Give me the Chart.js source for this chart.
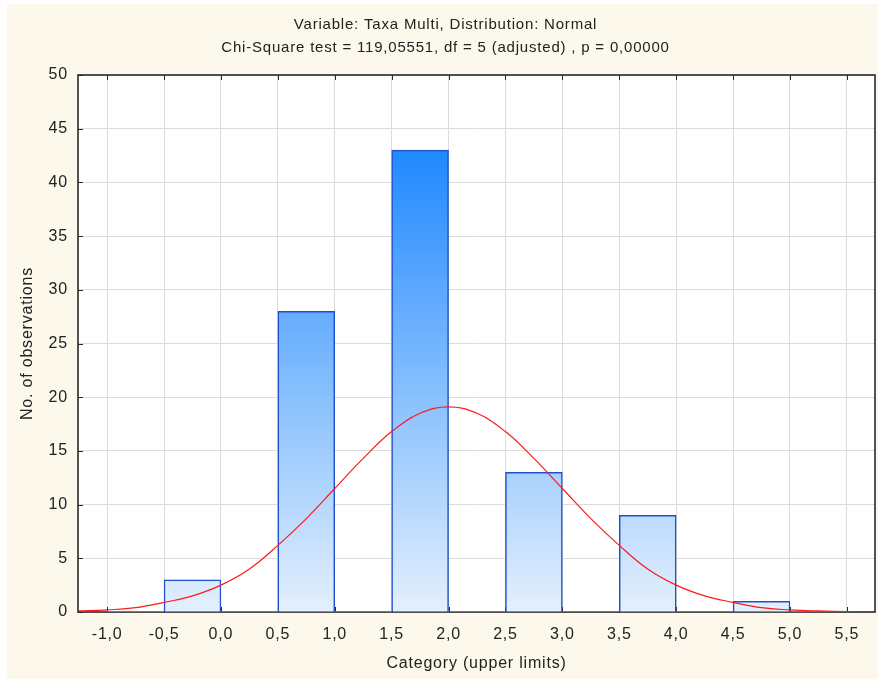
<!DOCTYPE html>
<html>
<head>
<meta charset="utf-8">
<script src="https://cdn.jsdelivr.net/npm/chart.js@4.4.1/dist/chart.umd.min.js"></script>
<style>
  html, body { margin: 0; padding: 0; background: #ffffff; }
  #wrap { width: 878px; height: 679px; }
</style>
</head>
<body>
<div id="wrap"><canvas id="myChart" width="878" height="679"></canvas></div>
<script>
"use strict";

// histogram bins (upper limits) and counts
const binWidth = 0.5;
const binUpper = [-0.5, 0.0, 0.5, 1.0, 1.5, 2.0, 2.5, 3.0, 3.5, 4.0, 4.5, 5.0, 5.5];
const binCounts = [0, 3, 0, 28, 0, 43, 0, 13, 0, 9, 0, 1, 0];

// fitted normal curve
const curveX = [-1.25, -1.0, -0.75, -0.5, -0.25, 0.0, 0.25, 0.5, 0.75, 1.0, 1.25, 1.5, 1.75, 2.0,
                2.25, 2.5, 2.75, 3.0, 3.25, 3.5, 3.75, 4.0, 4.25, 4.5, 4.75, 5.0, 5.25, 5.5, 5.57];
const curveY = [0.1, 0.2, 0.4, 0.9, 1.5, 2.5, 4.0, 6.2, 8.7, 11.5, 14.3, 16.8, 18.5, 19.1,
                18.5, 16.8, 14.3, 11.5, 8.7, 6.2, 4.0, 2.5, 1.5, 0.9, 0.4, 0.2, 0.1, 0.04, 0.02];

// tick labels
const xTicks = [-1.0, -0.5, 0.0, 0.5, 1.0, 1.5, 2.0, 2.5, 3.0, 3.5, 4.0, 4.5, 5.0, 5.5];
const titleLines = ["Variable: Taxa Multi, Distribution: Normal",
                    "Chi-Square test = 119,05551, df = 5 (adjusted) , p = 0,00000"];

Chart.defaults.font.family = '"Liberation Sans", Arial, sans-serif';
Chart.defaults.color = '#222222';

// wider glyph spacing, like the original's screen font
const spacingPlugin = {
    id: 'spacing',
    beforeUpdate(chart) { chart.ctx.letterSpacing = '0.8px'; },
    beforeDraw(chart) { chart.ctx.letterSpacing = '0.8px'; }
};

// background, plot area, frame and inward ticks
const framePlugin = {
    id: 'frame',
    beforeDraw(chart) {
        const c = chart.ctx;
        const a = chart.chartArea;
        c.save();
        c.fillStyle = '#ffffff';
        c.fillRect(0, 0, chart.width, chart.height);
        c.fillStyle = '#fdf8ec';
        c.fillRect(7, 4, chart.width - 7, chart.height - 4);
        c.fillStyle = '#ffffff';
        c.fillRect(a.left, a.top, a.right - a.left, a.bottom - a.top);
        c.restore();
    },
    beforeDatasetsDraw(chart) {
        const c = chart.ctx;
        const a = chart.chartArea;
        const xs = chart.scales.x, ys = chart.scales.y;
        c.save();
        c.strokeStyle = '#2a2a2a';
        c.lineWidth = 1;
        c.beginPath();
        xs.ticks.forEach(t => {
            const px = Math.round(xs.getPixelForValue(t.value)) + 0.5;
            c.moveTo(px, a.bottom); c.lineTo(px, a.bottom - 5);
            c.moveTo(px, a.top); c.lineTo(px, a.top + 5);
        });
        ys.ticks.forEach(t => {
            const py = Math.round(ys.getPixelForValue(t.value)) + 0.5;
            c.moveTo(a.left, py); c.lineTo(a.left + 5, py);
        });
        c.stroke();
        c.lineWidth = 1.6;
        c.strokeRect(a.left, a.top, a.right - a.left, a.bottom - a.top);
        c.restore();
    }
};

function barGradient(ctx) {
    const a = ctx.chart.chartArea;
    if (!a) return '#7ab4ff';
    const g = ctx.chart.ctx.createLinearGradient(0, a.top, 0, a.bottom);
    g.addColorStop(0, 'rgb(0,120,255)');
    g.addColorStop(1, 'rgb(228,240,253)');
    return g;
}

const ctx = document.getElementById('myChart');
const myChart = new Chart(ctx, {
    type: 'bar',
    data: {
        datasets: [
            {
                type: 'line',
                label: 'Normal',
                data: curveX.map((x, i) => ({ x: x, y: curveY[i] })),
                borderColor: '#ff1a1a',
                borderWidth: 1.2,
                pointRadius: 0,
                tension: 0.4,
                order: 0
            },
            {
                type: 'bar',
                label: 'Observations',
                data: binUpper.map((u, i) => ({ x: u - binWidth / 2, y: binCounts[i] })),
                backgroundColor: barGradient,
                borderColor: '#1f4fcc',
                borderWidth: (c) => (c.raw && c.raw.y > 0 ? 1.5 : 0),
                categoryPercentage: 1.0,
                barPercentage: 1.0,
                order: 1
            }
        ]
    },
    options: {
        responsive: false,
        animation: false,
        layout: { padding: { left: 16, right: 3, top: 0, bottom: 0 } },
        plugins: {
            legend: { display: false },
            tooltip: { enabled: false },
            title: {
                display: true,
                text: titleLines,
                color: '#222222',
                font: { size: 15, weight: 'normal', lineHeight: 1.5 },
                padding: { top: 14, bottom: 16 }
            }
        },
        scales: {
            x: {
                type: 'linear',
                min: -1.256,
                max: 5.747,
                offset: false,
                afterBuildTicks: (scale) => { scale.ticks = xTicks.map(v => ({ value: v })); },
                afterFit: (scale) => { scale.height = 67; },
                grid: { color: '#dcdcdc', drawTicks: false, offset: false },
                border: { display: false },
                ticks: {
                    font: { size: 16 },
                    padding: 13,
                    maxRotation: 0,
                    autoSkip: false,
                    callback: (v) => Number(v).toFixed(1).replace('.', ',')
                },
                title: {
                    display: true,
                    text: 'Category (upper limits)',
                    font: { size: 16 },
                    padding: { top: 6, bottom: 6 }
                }
            },
            y: {
                min: 0,
                max: 50,
                afterFit: (scale) => { scale.width = 62; },
                grid: { color: '#dcdcdc', drawTicks: false },
                border: { display: false },
                ticks: { stepSize: 5, font: { size: 16 }, padding: 10 },
                title: {
                    display: true,
                    text: 'No. of observations',
                    font: { size: 16 },
                    padding: { top: 2, bottom: 2 }
                }
            }
        }
    },
    plugins: [spacingPlugin, framePlugin]
});
</script>
</body>
</html>
